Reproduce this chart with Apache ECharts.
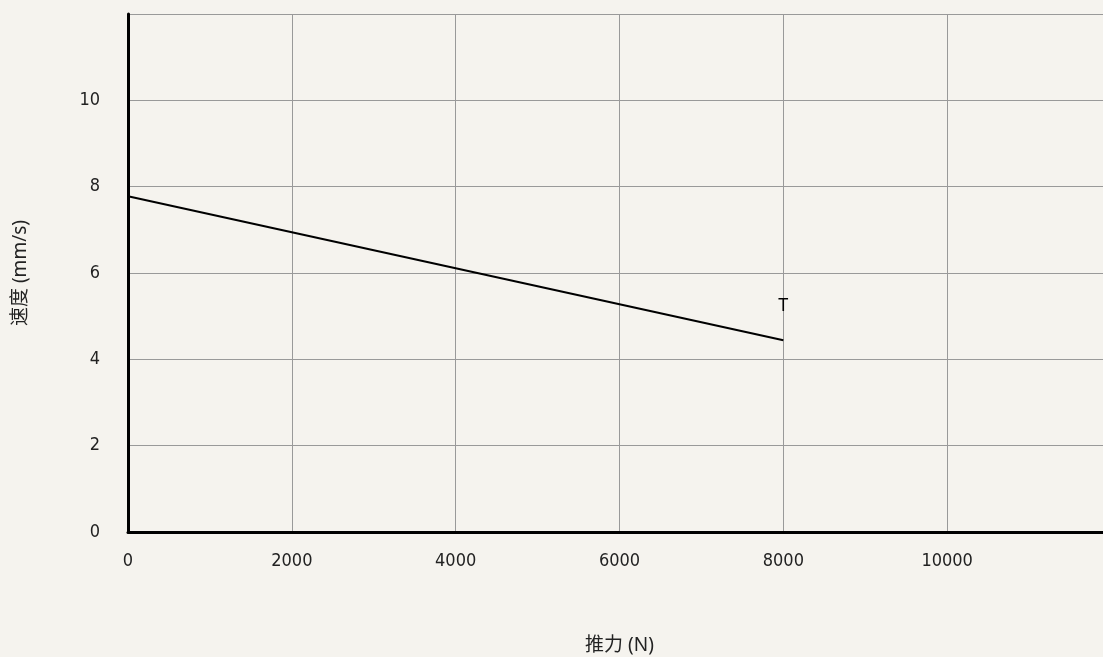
<!DOCTYPE html>
<html>
<head>
<meta charset="utf-8">
<script src="https://cdn.jsdelivr.net/npm/echarts@6/dist/echarts.min.js"></script>
<style>
html,body{margin:0;padding:0;background:#f5f3ee;}
#c{width:1103px;height:657px;}
</style>
</head>
<body>
<div id="c"></div>
<script>
var xName = '推力 (N)';
var yName = '速度 (mm/s)';
var seriesName = 'T';
var forceValues = [0, 8000];
var speedValues = [7.78, 4.44];

var chart = echarts.init(document.getElementById('c'));
var numFont = '"Liberation Sans Narrow","DejaVu Sans Condensed","Roboto",sans-serif';
var nameFont = '"Noto Sans","Noto Sans CJK SC",sans-serif';
var data = forceValues.map(function (f, i) { return [f, speedValues[i]]; });
chart.setOption({
  backgroundColor: '#f5f3ee',
  animation: false,
  grid: { left: 128, top: 14, width: 983, height: 518, containLabel: false, outerBoundsMode: 'none' },
  xAxis: {
    type: 'value', min: 0, max: 12000, interval: 2000,
    name: xName, nameLocation: 'middle', nameGap: 104,
    nameTextStyle: { fontFamily: nameFont, fontSize: 19, color: '#222' },
    axisLine: { show: true, onZero: false, lineStyle: { color: '#000', width: 3 } },
    axisTick: { show: false },
    axisLabel: { fontFamily: numFont, fontSize: 18, color: '#222', margin: 20,
      formatter: function (v) { return v >= 12000 ? '' : String(v); } },
    splitLine: { show: true, lineStyle: { color: '#999', width: 1 } }
  },
  yAxis: {
    type: 'value', min: 0, max: 12, interval: 2,
    name: yName, nameLocation: 'middle', nameGap: 98, nameRotate: 90,
    nameTextStyle: { fontFamily: nameFont, fontSize: 19, color: '#222' },
    axisLine: { show: true, onZero: false, lineStyle: { color: '#000', width: 3 } },
    axisTick: { show: false },
    axisLabel: { fontFamily: numFont, fontSize: 18, color: '#222', margin: 28,
      formatter: function (v) { return v >= 12 ? '' : String(v); } },
    splitLine: { show: true, lineStyle: { color: '#999', width: 1 } }
  },
  series: [{
    name: seriesName,
    type: 'line',
    data: data,
    symbol: 'none',
    lineStyle: { color: '#000', width: 2 },
    endLabel: {
      show: true, formatter: seriesName, position: 'top',
      offset: [-13, -34], fontFamily: '"Noto Sans",sans-serif', fontSize: 18, color: '#000'
    }
  }]
});
</script>
</body>
</html>
